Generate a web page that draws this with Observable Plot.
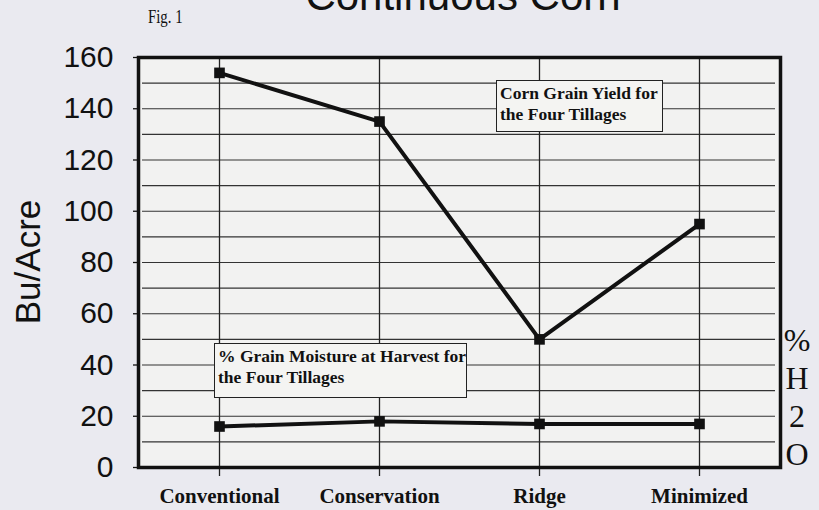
<!DOCTYPE html>
<html><head><meta charset="utf-8">
<script src="https://cdn.jsdelivr.net/npm/d3@7"></script>
<script src="https://cdn.jsdelivr.net/npm/@observablehq/plot@0.6"></script>
<style>
body{margin:0;background:#eaeaf0;}
#wrap{position:relative;width:819px;height:510px;overflow:hidden;background:#eaeaf0;}
.t{position:absolute;white-space:nowrap;line-height:1;color:#111;}
.serif{font-family:"Liberation Serif","Times New Roman",serif;}
.box{position:absolute;background:#f4f4f2;border:1.5px solid #222;box-sizing:border-box;padding:2px 3px;font-family:"Liberation Serif",serif;font-weight:bold;font-size:17.5px;line-height:21px;color:#111;white-space:nowrap;}
</style></head><body><div id="wrap"></div>
<script>
const tillages = ["Conventional", "Conservation", "Ridge", "Minimized"];
const yieldBuAcre = [154, 135, 50, 95];
const moisturePct = [16, 18, 17, 17];
const yTicks = [0, 20, 40, 60, 80, 100, 120, 140, 160];
const gridValues = [10, 20, 30, 40, 50, 60, 70, 80, 90, 100, 110, 120, 130, 140, 150];

const yieldData = tillages.map((t, i) => ({tillage: t, value: yieldBuAcre[i]}));
const moistData = tillages.map((t, i) => ({tillage: t, value: moisturePct[i]}));

const chart = Plot.plot({
  width: 819,
  height: 510,
  marginLeft: 138,
  marginRight: 39,
  marginTop: 57,
  marginBottom: 43,
  style: {background: "transparent", color: "#111", overflow: "visible"},
  x: {type: "point", domain: tillages, padding: 0.5},
  y: {domain: [0, 160]},
  marks: [
    Plot.frame({fill: "#f2f2f1", stroke: "none"}),
    Plot.ruleY(gridValues, {stroke: "#333", strokeWidth: 1.2, insetLeft: 4, insetRight: 5}),
    Plot.gridX({stroke: "#222", strokeOpacity: 1, strokeWidth: 1.3}),
    Plot.axisX({tickSize: 9, tickPadding: 12, fontSize: 21, fontWeight: "bold", fontFamily: "Liberation Serif", label: null, stroke: "#222", strokeWidth: 1.3}),
    Plot.axisY({ticks: yTicks, tickSize: 5, tickPadding: 20, fontSize: 30, fontFamily: "Liberation Sans", label: null, strokeWidth: 1.3}),
    Plot.line(yieldData, {x: "tillage", y: "value", stroke: "#111", strokeWidth: 4}),
    Plot.dot(yieldData, {x: "tillage", y: "value", symbol: "square", r: 6, fill: "#111"}),
    Plot.line(moistData, {x: "tillage", y: "value", stroke: "#111", strokeWidth: 4}),
    Plot.dot(moistData, {x: "tillage", y: "value", symbol: "square", r: 6, fill: "#111"}),
    Plot.frame({stroke: "#111", strokeWidth: 3.5})
  ]
});
const wrap = document.getElementById("wrap");
wrap.appendChild(chart);
chart.style.position = "absolute";
chart.style.left = "0px";
chart.style.top = "0px";

function addText(txt, cls, css) {
  const d = document.createElement("div");
  d.className = "t " + cls;
  d.textContent = txt;
  Object.assign(d.style, css);
  wrap.appendChild(d);
  return d;
}
addText("Continuous Corn", "", {fontFamily: "Liberation Sans", fontSize: "42px", left: "0px", width: "926px", textAlign: "center", top: "-25px"});
addText("Fig. 1", "serif", {fontSize: "19px", left: "148px", top: "7px", transform: "scaleX(0.78)", transformOrigin: "left center"});
addText("Bu/Acre", "", {fontFamily: "Liberation Sans", fontSize: "35px", left: "27px", top: "262px", transform: "translate(-50%,-50%) rotate(-90deg)"});
["%", "H", "2", "O"].forEach((c, i) => {
  addText(c, "serif", {fontSize: "32px", left: "797px", top: (340 + i * 38) + "px", transform: "translate(-50%,-50%)"});
});
function addBox(lines, left, top, w, h) {
  const b = document.createElement("div");
  b.className = "box";
  Object.assign(b.style, {left: left + "px", top: top + "px", width: w + "px", height: h + "px"});
  b.innerHTML = lines.join("<br>");
  wrap.appendChild(b);
}
addBox(["Corn Grain Yield for", "the Four Tillages"], 496, 80, 167, 52);
addBox(["% Grain Moisture at Harvest for", "the Four Tillages"], 214, 343, 253, 55);
</script></body></html>
